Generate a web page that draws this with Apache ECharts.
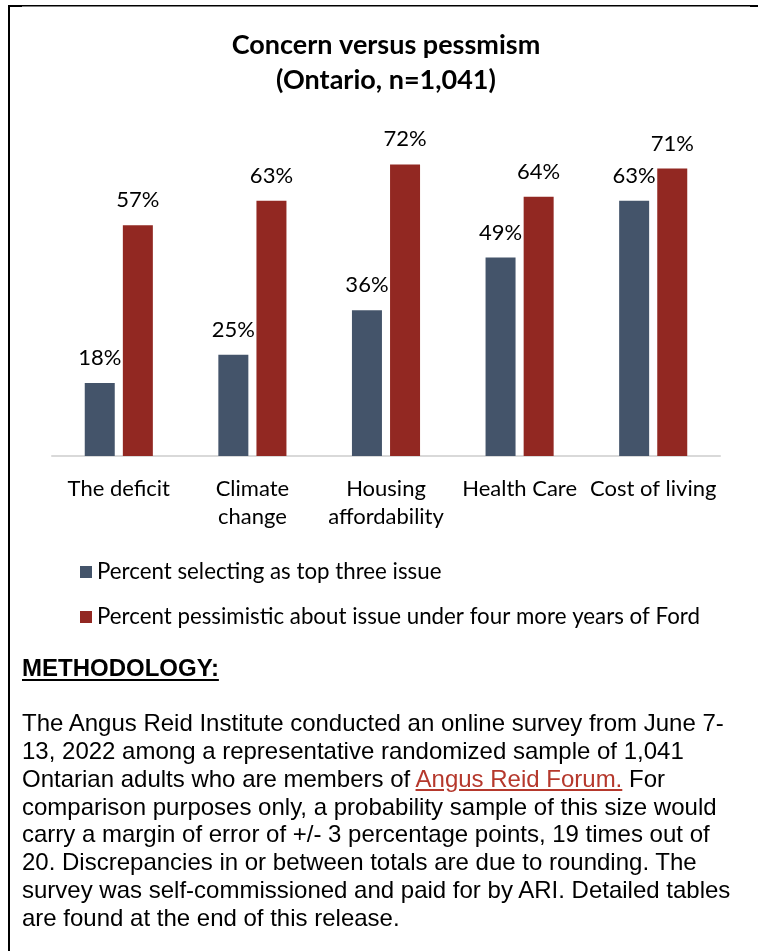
<!DOCTYPE html>
<html>
<head>
<meta charset="utf-8">
<script src="https://cdn.jsdelivr.net/npm/echarts@6/dist/echarts.min.js"></script>
<style>
  html, body { margin: 0; padding: 0; background: #fff; }
  #wrap { position: relative; width: 758px; height: 951px; overflow: hidden; }
  #chart { position: absolute; left: 0; top: 0; width: 758px; height: 951px; }
  #method { position: absolute; left: 22px; top: 654px; font-family: "Liberation Sans", Arial, sans-serif; color: #000; white-space: nowrap; }
  #method .h { font-weight: bold; font-size: 24px; line-height: 27px; text-decoration: underline; text-underline-offset: 3px; text-decoration-thickness: 2px; }
  #method .b { margin-top: 28px; font-size: 24px; line-height: 27.86px; }
  #method a { color: #b5382c; text-decoration: underline; }
</style>
</head>
<body>
<div id="wrap">
  <div id="chart"></div>
  <div id="method">
    <div class="h">METHODOLOGY:</div>
    <div class="b">The Angus Reid Institute conducted an online survey from June 7-<br>13, 2022 among a representative randomized sample of 1,041<br>Ontarian adults who are members of <a>Angus Reid Forum.</a> For<br>comparison purposes only, a probability sample of this size would<br>carry a margin of error of +/- 3 percentage points, 19 times out of<br>20. Discrepancies in or between totals are due to rounding. The<br>survey was self-commissioned and paid for by ARI. Detailed tables<br>are found at the end of this release.</div>
  </div>
</div>
<script>
const titleLines = ['Concern versus pessmism', '(Ontario, n=1,041)'];
const categories = ['The deficit', 'Climate\nchange', 'Housing\naffordability', 'Health Care', 'Cost of living'];
const seriesNames = ['Percent selecting as top three issue', 'Percent pessimistic about issue under four more years of Ford'];
const topThree = [18, 25, 36, 49, 63];
const pessimistic = [57, 63, 72, 64, 71];

const FONT = 'Lato';
const chart = echarts.init(document.getElementById('chart'), null, { renderer: 'canvas' });
const labelStyle = {
  show: true, position: 'top', distance: 14,
  formatter: p => p.value + '%',
  fontFamily: FONT, fontSize: 22, color: '#000'
};
chart.setOption({
  animation: false,
  backgroundColor: '#fff',
  grid: { left: 52, right: 38, top: 132, bottom: 495, containLabel: false },
  xAxis: {
    type: 'category', data: categories,
    axisLine: { show: true, lineStyle: { color: '#d9d9d9', width: 2 } },
    axisTick: { show: false },
    axisLabel: { fontFamily: FONT, fontSize: 22, color: '#000', margin: 19, lineHeight: 28, interval: 0 }
  },
  yAxis: { type: 'value', min: 0, max: 80, show: false, splitLine: { show: false } },
  legend: {
    orient: 'vertical', left: 75, top: 556, itemWidth: 12, itemHeight: 12, itemGap: 23,
    icon: 'rect', data: seriesNames,
    textStyle: { fontFamily: FONT, fontSize: 22.3, color: '#000' }
  },
  series: [
    { name: seriesNames[0], type: 'bar', data: topThree, barWidth: 30, barGap: '27%',
      itemStyle: { color: '#44546a' }, label: labelStyle },
    { name: seriesNames[1], type: 'bar', data: pessimistic, barWidth: 30,
      itemStyle: { color: '#922822' }, label: labelStyle }
  ],
  graphic: [
    { type: 'text', x: 386, y: 28, style: { text: titleLines.join('\n'), textAlign: 'center', fontFamily: FONT, fontWeight: 'bold', fontSize: 27, lineHeight: 35, fill: '#000' } },
    { type: 'rect', shape: { x: 8, y: 5, width: 750, height: 1.5 }, style: { fill: '#000' } },
    { type: 'rect', shape: { x: 8, y: 5, width: 14, height: 2 }, style: { fill: '#000' } },
    { type: 'rect', shape: { x: 750, y: 5, width: 8, height: 2 }, style: { fill: '#000' } },
    { type: 'rect', shape: { x: 8, y: 5, width: 2, height: 946 }, style: { fill: '#000' } }
  ]
});
</script>
</body>
</html>
